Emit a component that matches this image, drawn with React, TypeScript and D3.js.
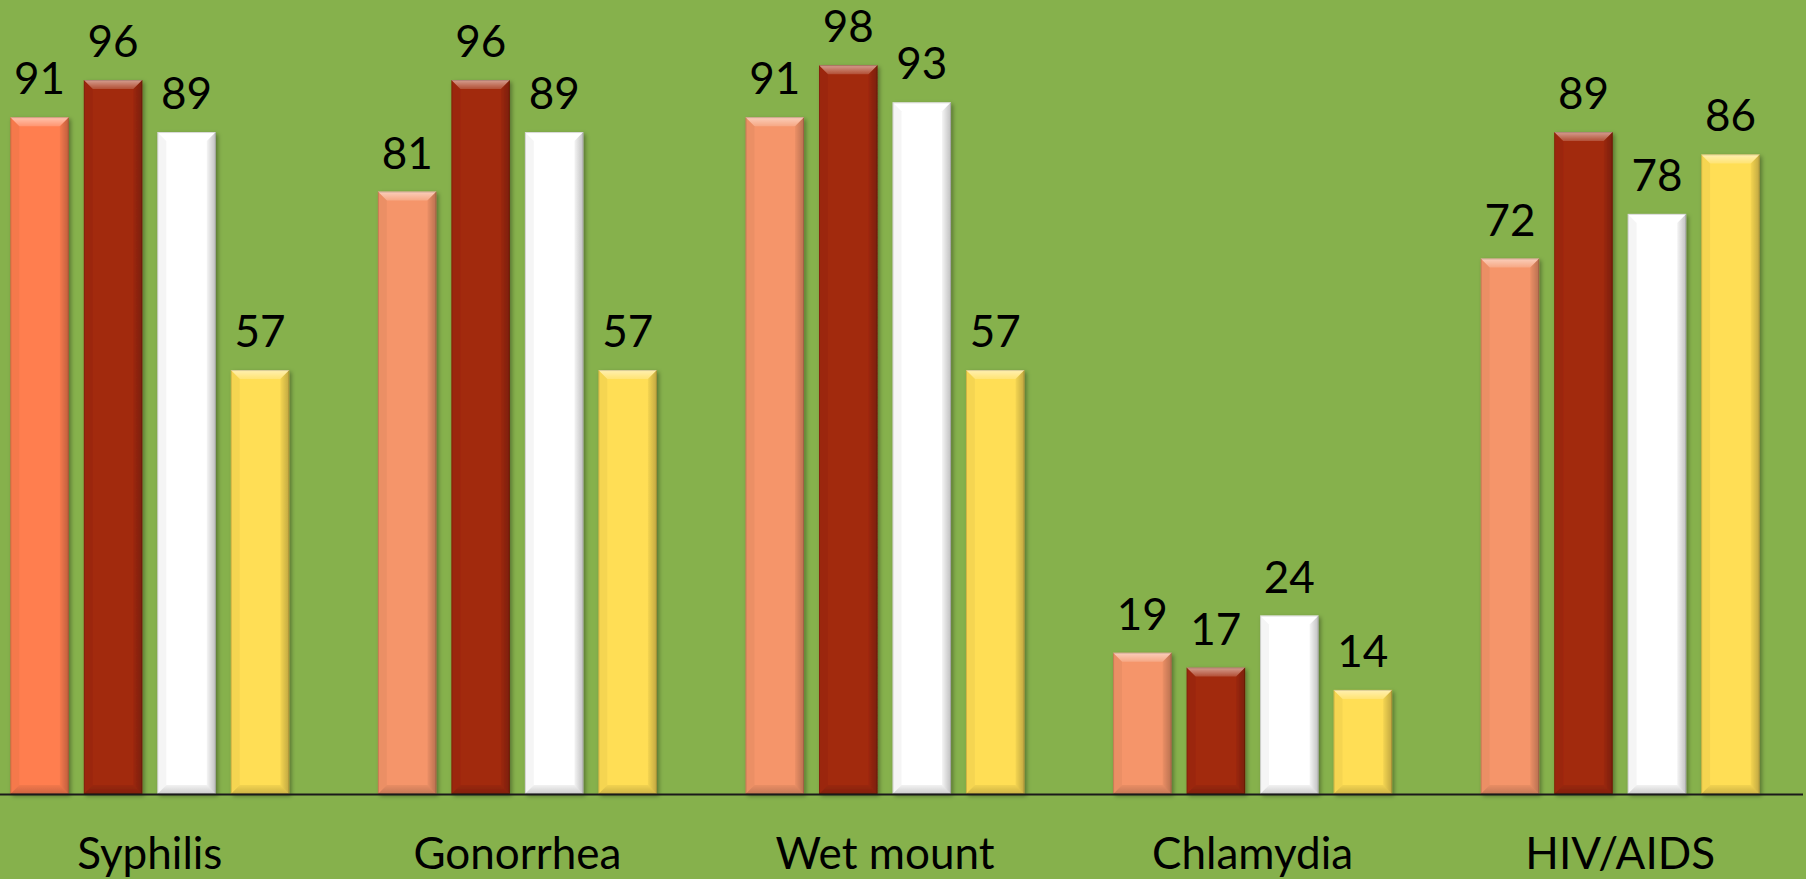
import React from "react";
import * as d3 from "d3";

// Chart data
const categories = ["Syphilis", "Gonorrhea", "Wet mount", "Chlamydia", "HIV/AIDS"];
const seriesKeys = ["s1", "s2", "s3", "s4"];
const s1Values = [91, 81, 91, 19, 72];
const s2Values = [96, 96, 98, 17, 89];
const s3Values = [89, 89, 93, 24, 78];
const s4Values = [57, 57, 57, 14, 86];
const seriesValues = [s1Values, s2Values, s3Values, s4Values];

const seriesColors = ["#F5956A", "#A2290A", "#FFFFFF", "#FFDE55"];
// first point of the first series uses a stronger coral
const pointColorOverride: Record<string, string> = { "0-0": "#FF7E50" };

const W = 1806;
const H = 879;
const baseY = 794;
const FONT = "Lato, 'Open Sans', sans-serif";

export default function App() {
  const x0 = d3.scaleBand<string>().domain(categories).range([-34, 1804]);
  const groupW = 294;
  const x1 = d3
    .scaleBand<string>()
    .domain(seriesKeys)
    .range([0, groupW])
    .paddingInner(0.204)
    .paddingOuter(0.102);
  const y = d3.scaleLinear().domain([0, 96]).range([baseY, 80]);

  const bw = x1.bandwidth();

  const bars: React.ReactNode[] = [];
  const labels: React.ReactNode[] = [];

  categories.forEach((cat, ci) => {
    const cx = (x0(cat) as number) + x0.bandwidth() / 2;
    const gx = cx - groupW / 2;
    seriesKeys.forEach((key, si) => {
      const v = seriesValues[si][ci];
      const bx = gx + (x1(key) as number);
      const by = y(v);
      const bh = baseY - by;
      const b = Math.min(9, bh / 2);
      const fill = pointColorOverride[`${si}-${ci}`] ?? seriesColors[si];
      bars.push(
        <g key={`${ci}-${si}`} filter="url(#shadow)">
          <rect x={bx} y={by} width={bw} height={bh} fill={fill} />
          {/* top bevel */}
          <polygon
            points={`${bx},${by} ${bx + bw},${by} ${bx + bw - b},${by + b} ${bx + b},${by + b}`}
            fill="url(#topBevel)"
          />
          {/* left bevel */}
          <polygon
            points={`${bx},${by} ${bx + b},${by + b} ${bx + b},${baseY - b} ${bx},${baseY}`}
            fill="rgba(0,0,0,0.04)"
          />
          {/* right bevel */}
          <polygon
            points={`${bx + bw},${by} ${bx + bw - b},${by + b} ${bx + bw - b},${baseY - b} ${bx + bw},${baseY}`}
            fill="url(#rightBevel)"
          />
          {/* bottom bevel */}
          <polygon
            points={`${bx},${baseY} ${bx + bw},${baseY} ${bx + bw - b},${baseY - b} ${bx + b},${baseY - b}`}
            fill="url(#bottomBevel)"
          />
          <rect
            x={bx + 0.5}
            y={by + 0.5}
            width={bw - 1}
            height={bh - 1}
            fill="none"
            stroke="rgba(0,0,0,0.15)"
            strokeWidth={1}
          />
        </g>
      );
      labels.push(
        <text
          key={`l-${ci}-${si}`}
          x={bx + bw / 2}
          y={by - 23}
          textAnchor="middle"
          fontFamily={FONT}
          fontSize={44}
          fill="#000"
        >
          {v}
        </text>
      );
    });
  });

  return (
    <svg
      width={W}
      height={H}
      style={{ position: "absolute", left: 0, top: 0, display: "block" }}
    >
      <defs>
        <filter id="shadow" x="-20%" y="-20%" width="140%" height="140%">
          <feDropShadow dx="2" dy="2" stdDeviation="2" floodColor="#000" floodOpacity="0.35" />
        </filter>
        <linearGradient id="topBevel" x1="0" y1="0" x2="0" y2="1">
          <stop offset="0" stopColor="#fff" stopOpacity="0.55" />
          <stop offset="1" stopColor="#fff" stopOpacity="0.18" />
        </linearGradient>
        <linearGradient id="rightBevel" x1="0" y1="0" x2="1" y2="0">
          <stop offset="0" stopColor="#000" stopOpacity="0.04" />
          <stop offset="1" stopColor="#000" stopOpacity="0.25" />
        </linearGradient>
        <linearGradient id="bottomBevel" x1="0" y1="0" x2="0" y2="1">
          <stop offset="0" stopColor="#000" stopOpacity="0.05" />
          <stop offset="1" stopColor="#000" stopOpacity="0.2" />
        </linearGradient>
      </defs>
      <rect x={0} y={0} width={W} height={H} fill="#86B14C" />
      {bars}
      <line x1={0} x2={1803} y1={baseY + 0.5} y2={baseY + 0.5} stroke="#1a1a1a" strokeWidth={2} />
      {labels}
      {categories.map((cat) => (
        <text
          key={cat}
          x={(x0(cat) as number) + x0.bandwidth() / 2}
          y={869}
          textAnchor="middle"
          fontFamily={FONT}
          fontSize={44}
          fill="#000"
        >
          {cat}
        </text>
      ))}
    </svg>
  );
}
